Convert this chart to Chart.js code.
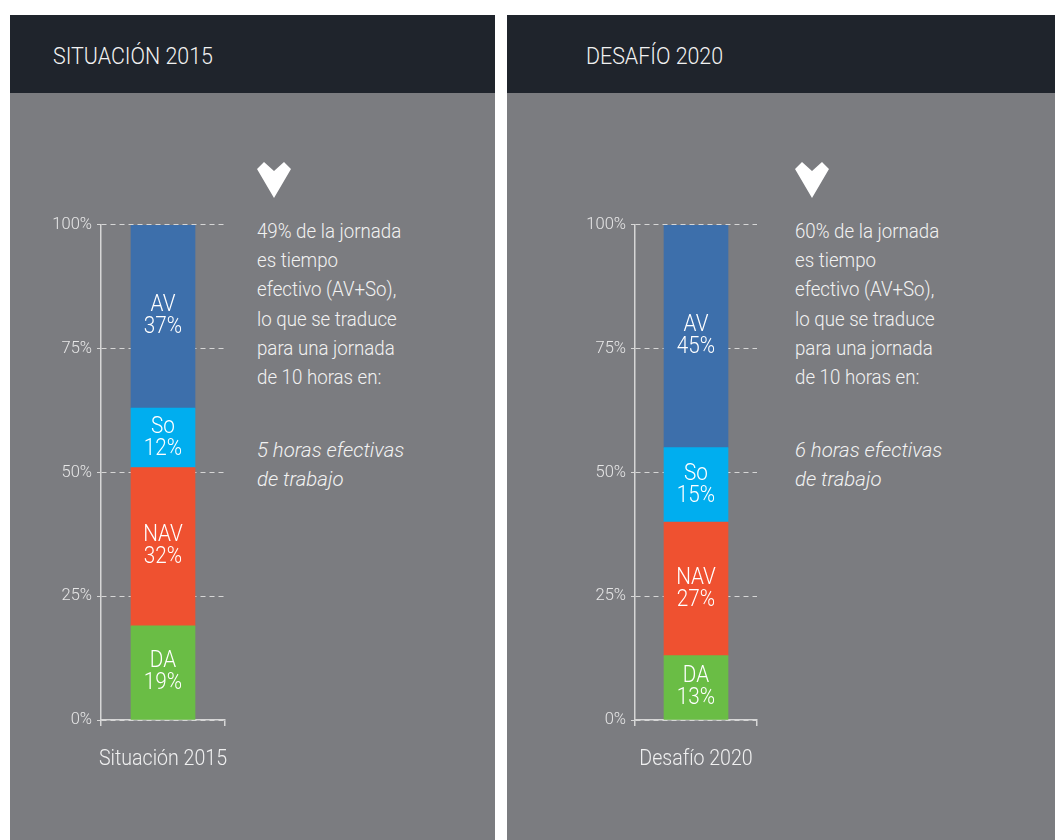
<!DOCTYPE html>
<html>
<head>
<meta charset="utf-8">
<script src="https://cdn.jsdelivr.net/npm/chart.js@4.4.0/dist/chart.umd.min.js"></script>
<style>
  body{margin:0;background:#ffffff;width:1055px;height:840px;overflow:hidden;position:relative;
       font-family:'Roboto',sans-serif;font-weight:300;}
  .panel{position:absolute;top:15px;height:825px;background:#7b7c80;}
  .hdr{position:absolute;left:0;top:0;right:0;height:78px;background:#1f242c;}
  .hdr span{position:absolute;top:26px;font-size:23.5px;line-height:30px;color:#f2f2f2;
            transform:scaleX(0.91);transform-origin:0 50%;white-space:nowrap;}
  .note{position:absolute;font-size:21px;line-height:29.2px;color:#f2f2f2;white-space:nowrap;
        transform:scaleX(0.89);transform-origin:0 0;}
  .note.it{font-style:italic;transform:scaleX(0.97);}
  .heart{position:absolute;width:36px;height:38px;}
  canvas{position:absolute;}
</style>
</head>
<body>
<div class="panel" style="left:10px;width:485px;"><div class="hdr"><span id="h1" style="left:43px;"></span></div></div>
<div class="panel" style="left:507px;width:548px;"><div class="hdr"><span id="h2" style="left:79px;"></span></div></div>

<svg class="heart" style="left:256px;top:161px;" viewBox="0 0 36 38"><path d="M1,8 L8,1 L18,10 L28,1 L35,8 L18,37 Z" fill="#ffffff"/></svg>
<svg class="heart" style="left:794px;top:161px;" viewBox="0 0 36 38"><path d="M1,8 L8,1 L18,10 L28,1 L35,8 L18,37 Z" fill="#ffffff"/></svg>

<div class="note" id="n1" style="left:257px;top:217px;"></div>
<div class="note it" id="i1" style="left:257px;top:436px;"></div>
<div class="note" id="n2" style="left:795px;top:217px;"></div>
<div class="note it" id="i2" style="left:795px;top:436px;"></div>

<canvas id="c1" width="200" height="570" style="left:40px;top:210px;width:200px;height:570px;"></canvas>
<canvas id="c2" width="198" height="570" style="left:574px;top:210px;width:198px;height:570px;"></canvas>

<script>
// ---- data ----
const segments = ['DA', 'NAV', 'So', 'AV'];
const values2015 = [19, 32, 12, 37];
const values2020 = [13, 27, 15, 45];
const category2015 = ['Situación 2015'];
const category2020 = ['Desafío 2020'];
const yTickValues = [0, 25, 50, 75, 100];
const headers = ['SITUACIÓN 2015', 'DESAFÍO 2020'];
const notes2015 = ['49% de la jornada', 'es tiempo', 'efectivo (AV+So),', 'lo que se traduce', 'para una jornada', 'de 10 horas en:'];
const notes2020 = ['60% de la jornada', 'es tiempo', 'efectivo (AV+So),', 'lo que se traduce', 'para una jornada', 'de 10 horas en:'];
const italic2015 = ['5 horas efectivas', 'de trabajo'];
const italic2020 = ['6 horas efectivas', 'de trabajo'];

// ---- styles ----
const segColors = ['#6abd45', '#ef5130', '#00aeef', '#3d6fab'];
const FONT = "Roboto, sans-serif";
const lineCol = '#d6d6d6';

document.getElementById('h1').textContent = headers[0];
document.getElementById('h2').textContent = headers[1];
document.getElementById('n1').innerHTML = notes2015.join('<br>');
document.getElementById('n2').innerHTML = notes2020.join('<br>');
document.getElementById('i1').innerHTML = italic2015.join('<br>');
document.getElementById('i2').innerHTML = italic2020.join('<br>');

const barLabels = {
  id: 'barLabels',
  afterDatasetsDraw(chart) {
    const ctx = chart.ctx;
    ctx.save();
    ctx.fillStyle = '#ffffff';
    ctx.font = '300 23px ' + FONT;
    ctx.textAlign = 'center';
    ctx.textBaseline = 'middle';
    chart.data.datasets.forEach((ds, i) => {
      const el = chart.getDatasetMeta(i).data[0];
      const cy = (el.y + el.base) / 2;
      [[ds.label, cy - 11], [ds.data[0] + '%', cy + 11]].forEach(([t, y]) => {
        ctx.save();
        ctx.translate(el.x, y);
        ctx.scale(0.9, 1);
        ctx.fillText(t, 0, 0);
        ctx.restore();
      });
    });
    ctx.restore();
  },
  afterDraw(chart) {
    const ctx = chart.ctx;
    const xs = chart.scales.x;
    ctx.save();
    ctx.fillStyle = '#f0f0f0';
    ctx.font = '300 22.5px ' + FONT;
    ctx.textAlign = 'center';
    ctx.textBaseline = 'middle';
    ctx.translate(xs.getPixelForTick(0), chart.chartArea.bottom + 39);
    ctx.scale(0.87, 1);
    ctx.fillText(chart.data.labels[0], 0, 0);
    ctx.restore();
  }
};

function makeChart(id, category, values) {
  return new Chart(document.getElementById(id), {
    type: 'bar',
    data: {
      labels: category,
      datasets: segments.map((s, i) => ({
        label: s,
        data: [values[i]],
        backgroundColor: segColors[i],
        borderWidth: 0,
        barThickness: 64
      }))
    },
    options: {
      responsive: false,
      animation: false,
      events: [],
      layout: { padding: { top: 13, right: 15, left: 0, bottom: 0 } },
      plugins: { legend: { display: false }, tooltip: { enabled: false } },
      scales: {
        x: {
          stacked: true,
          offset: true,
          border: { display: true, color: lineCol, width: 1.5 },
          grid: { drawOnChartArea: false, drawTicks: true, tickLength: 6, color: lineCol, lineWidth: 1.5 },
          ticks: { display: false },
          afterFit(scale) { scale.height = 60; }
        },
        y: {
          stacked: true,
          min: 0,
          max: 100,
          afterBuildTicks(scale) { scale.ticks = yTickValues.map(v => ({ value: v })); },
          border: { display: true, color: lineCol, width: 1.5, dash: [5, 4] },
          grid: { color: lineCol, lineWidth: 1, tickLength: 4, tickBorderDash: [] },
          ticks: { color: '#e6e6e6', font: { family: FONT, size: 16.5, weight: 300 }, padding: 5,
                   callback: v => v + '%' },
          afterFit(scale) { scale.width = 61; }
        }
      }
    },
    plugins: [barLabels]
  });
}

makeChart('c1', category2015, values2015);
makeChart('c2', category2020, values2020);
</script>
</body>
</html>
